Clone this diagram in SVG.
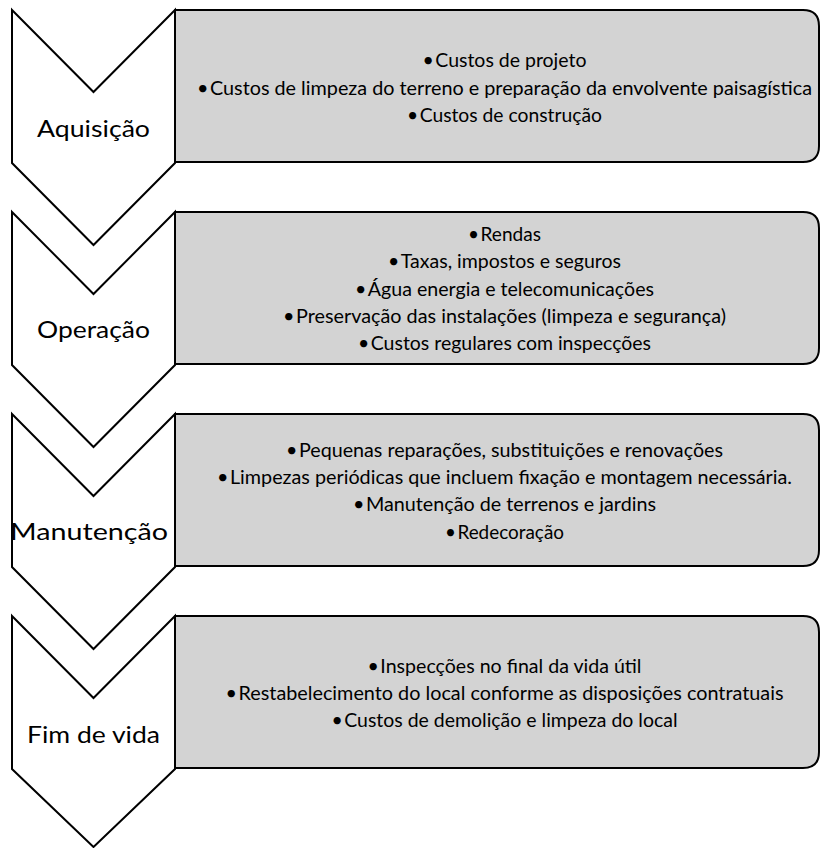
<svg xmlns="http://www.w3.org/2000/svg" width="820" height="848" viewBox="0 0 820 848">
<style>
.box{fill:#d3d3d3;stroke:#000;stroke-width:2;stroke-linejoin:round}
.chev{fill:#fff;stroke:#000;stroke-width:2;stroke-linejoin:miter}
.item{font-family:Lato,"Liberation Sans",sans-serif;font-size:19.5px;fill:#000;text-anchor:middle}
.lbl{font-family:Lato,"Liberation Sans",sans-serif;font-size:22.5px;fill:#000;text-anchor:middle}
</style>
<rect width="820" height="848" fill="#fff"/>
<g id="connectors"></g>

<g id="box-aquisicao">
<path class="box" d="M175,10 H803 Q819,10 819,26 V146 Q819,162 803,162 H175 Z"/>
<text class="item" x="504.5" y="67" textLength="164" lengthAdjust="spacingAndGlyphs">•<tspan dx="1.5">Custos de projeto</tspan></text>
<text class="item" x="504.5" y="94.5" textLength="615" lengthAdjust="spacingAndGlyphs">•<tspan dx="1.5">Custos de limpeza do terreno e preparação da envolvente paisagística</tspan></text>
<text class="item" x="504.5" y="122" textLength="195" lengthAdjust="spacingAndGlyphs">•<tspan dx="1.5">Custos de construção</tspan></text>
</g>
<g id="box-operacao">
<path class="box" d="M175,212 H803 Q819,212 819,228 V348 Q819,364 803,364 H175 Z"/>
<text class="item" x="504.5" y="241" textLength="73" lengthAdjust="spacingAndGlyphs">•<tspan dx="1.5">Rendas</tspan></text>
<text class="item" x="504.5" y="268.3" textLength="233" lengthAdjust="spacingAndGlyphs">•<tspan dx="1.5">Taxas, impostos e seguros</tspan></text>
<text class="item" x="504.5" y="295.7" textLength="299" lengthAdjust="spacingAndGlyphs">•<tspan dx="1.5">Água energia e telecomunicações</tspan></text>
<text class="item" x="504.5" y="322.5" textLength="443" lengthAdjust="spacingAndGlyphs">•<tspan dx="1.5">Preservação das instalações (limpeza e segurança)</tspan></text>
<text class="item" x="504.5" y="350" textLength="293" lengthAdjust="spacingAndGlyphs">•<tspan dx="1.5">Custos regulares com inspecções</tspan></text>
</g>
<g id="box-manutencao">
<path class="box" d="M175,414 H803 Q819,414 819,430 V550 Q819,566 803,566 H175 Z"/>
<text class="item" x="504.5" y="457" textLength="437" lengthAdjust="spacingAndGlyphs">•<tspan dx="1.5">Pequenas reparações, substituições e renovações</tspan></text>
<text class="item" x="504.5" y="484" textLength="575" lengthAdjust="spacingAndGlyphs">•<tspan dx="1.5">Limpezas periódicas que incluem fixação e montagem necessária.</tspan></text>
<text class="item" x="504.5" y="511.3" textLength="303" lengthAdjust="spacingAndGlyphs">•<tspan dx="1.5">Manutenção de terrenos e jardins</tspan></text>
<text class="item" x="504.5" y="538.7" textLength="119" lengthAdjust="spacingAndGlyphs">•<tspan dx="1.5">Redecoração</tspan></text>
</g>
<g id="box-fim">
<path class="box" d="M175,616 H803 Q819,616 819,632 V752 Q819,768 803,768 H175 Z"/>
<text class="item" x="504.5" y="673" textLength="274" lengthAdjust="spacingAndGlyphs">•<tspan dx="1.5">Inspecções no final da vida útil</tspan></text>
<text class="item" x="504.5" y="700" textLength="558" lengthAdjust="spacingAndGlyphs">•<tspan dx="1.5">Restabelecimento do local conforme as disposições contratuais</tspan></text>
<text class="item" x="504.5" y="727" textLength="346" lengthAdjust="spacingAndGlyphs">•<tspan dx="1.5">Custos de demolição e limpeza do local</tspan></text>
</g>

<g id="chev-aquisicao">
<path class="chev" d="M12,10 L93.5,92 L175,10 V163 L93.5,245 L12,163 Z"/>
<text class="lbl" x="93.5" y="137" textLength="113" lengthAdjust="spacingAndGlyphs">Aquisição</text>
</g>
<g id="chev-operacao">
<path class="chev" d="M12,212 L93.5,294 L175,212 V365 L93.5,447 L12,365 Z"/>
<text class="lbl" x="93.5" y="338" textLength="113" lengthAdjust="spacingAndGlyphs">Operação</text>
</g>
<g id="chev-manutencao">
<path class="chev" d="M12,414 L93.5,496 L175,414 V567 L93.5,649 L12,567 Z"/>
<text class="lbl" x="89" y="540" textLength="158" lengthAdjust="spacingAndGlyphs">Manutenção</text>
</g>
<g id="chev-fim">
<path class="chev" d="M12,616 L93.5,698 L175,616 V769 L93.5,847 L12,769 Z"/>
<text class="lbl" x="93.5" y="743" textLength="133" lengthAdjust="spacingAndGlyphs">Fim de vida</text>
</g>
</svg>
